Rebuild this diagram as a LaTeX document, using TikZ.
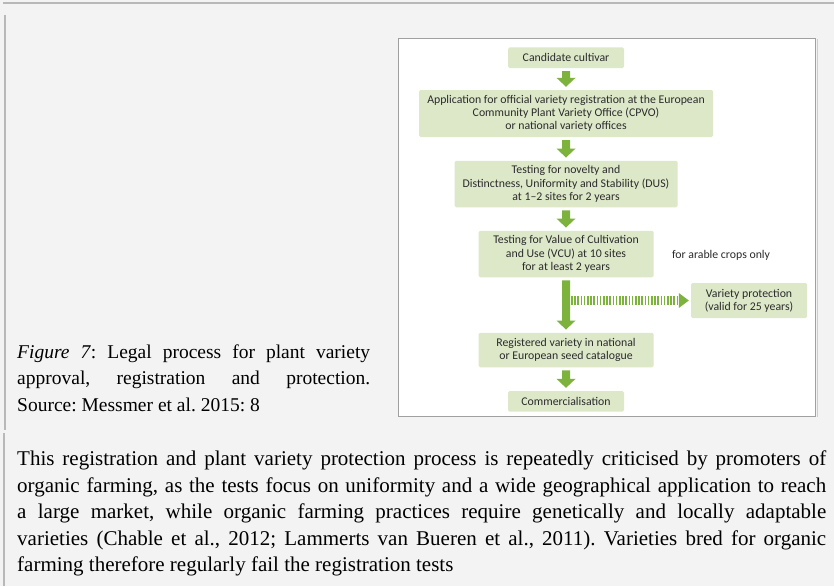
\documentclass[tikz,border=0pt]{standalone}
\usepackage{fontspec}
\setmainfont{Liberation Serif}
\newfontfamily\diagfont{Carlito}
\usetikzlibrary{calc}

\definecolor{pagebg}{HTML}{F3F3F3}
\definecolor{boxgreen}{HTML}{DDE8C9}
\definecolor{arrowgreen}{HTML}{7DB23D}
\definecolor{boxtext}{HTML}{2B2B2B}
\definecolor{rulegray}{HTML}{B8B8B8}
\definecolor{framegray}{HTML}{A0A0A0}

\tikzset{
  stepbox/.style={fill=boxgreen, rounded corners=1.5pt, align=center, inner sep=0pt,
    text=boxtext, font=\diagfont\fontsize{11.8}{13.2}\selectfont},
  sidenote/.style={inner sep=0pt, text=boxtext, font=\diagfont\fontsize{11.8}{13.2}\selectfont},
  flowarrow/.style={fill=arrowgreen},
  stripes/.style={draw=arrowgreen, line width=8.5pt, dash pattern=on 1.5pt off 1.7pt},
  bodytext/.style={anchor=north west, inner sep=0pt, align=justify},
}

% solid block arrow pointing down from one box to the next
\newcommand\downflow[2]{%
  \path[flowarrow] let \p1=($(#1.south)+(0,3)$), \p2=($(#2.north)-(0,3)$) in
    (\x1-4pt,\y1) -- (\x1+4pt,\y1) -- (\x1+4pt,\y2+9pt) -- (\x1+9.5pt,\y2+9pt)
    -- (\x1,\y2) -- (\x1-9.5pt,\y2+9pt) -- (\x1-4pt,\y2+9pt) -- cycle;}

\begin{document}
\frenchspacing
\begin{tikzpicture}[x=1pt,y=-1pt]
\useasboundingbox (0,0) rectangle (834,586);
\fill[pagebg] (0,0) rectangle (834,586);

% page rules
\draw[rulegray, line width=1.5pt] (3,3) -- (834,3);
\draw[rulegray, line width=2pt] (4.5,15) -- (4.5,430);
\draw[rulegray, line width=2pt] (4,433) -- (4,586);

% figure frame
\draw[framegray, line width=1.5pt, fill=white] (398.5,38.5) rectangle (815.5,416.5);
\draw[rulegray!70, line width=1pt] (817,39.5) -- (817,417);

% flow chart boxes
\node[stepbox, minimum width=116pt, minimum height=20.5pt] (cand) at (566,57.75) {Candidate cultivar};
\node[stepbox, minimum width=294pt, minimum height=47pt] (appl) at (566,113.5)
  {Application for official variety registration at the European\\Community Plant Variety Office (CPVO)\\or national variety offices};
\node[stepbox, minimum width=223pt, minimum height=46.5pt] (dus) at (566,184)
  {Testing for novelty and\\Distinctness, Uniformity and Stability (DUS)\\at 1–2 sites for 2 years};
\node[stepbox, minimum width=175pt, minimum height=46.5pt] (vcu) at (566,254)
  {Testing for Value of Cultivation\\and Use (VCU) at 10 sites\\for at least 2 years};
\node[sidenote] (arable) at (721,255.5) {for arable crops only};
\node[stepbox, minimum width=116pt, minimum height=35pt] (prot) at (749,300.5)
  {Variety protection\\(valid for 25 years)};
\node[stepbox, minimum width=175pt, minimum height=34.5pt] (reg) at (566,350)
  {Registered variety in national\\or European seed catalogue};
\node[stepbox, minimum width=116pt, minimum height=20.5pt] (comm) at (566,401.3) {Commercialisation};

% connectors
\downflow{cand}{appl}
\downflow{appl}{dus}
\downflow{dus}{vcu}
\downflow{vcu}{reg}
\downflow{reg}{comm}

% striped branch to variety protection
\coordinate (branch) at (571,300.5);
\draw[stripes] (branch) -- ($(prot.west)+(-12,0)$);
\path[flowarrow] let \p1=($(prot.west)+(-2,0)$) in
  (\x1,\y1) -- (\x1-10pt,\y1-7.5pt) -- (\x1-10pt,\y1+7.5pt) -- cycle;

% caption and running text
\node[bodytext, text width=353pt, font=\fontsize{19.5}{26.5}\selectfont] (caption) at (17,344.5)
  {\textit{Figure 7}: Legal process for plant variety\linebreak
   approval, registration and protection.\linebreak
   Source: Messmer et al. 2015: 8};
\node[bodytext, text width=809pt, font=\fontsize{21}{26.5}\selectfont] (body) at (17,451)
  {This registration and plant variety protection process is repeatedly criticised by promoters of\linebreak
   organic farming, as the tests focus on uniformity and a wide geographical application to reach\linebreak
   a large market, while organic farming practices require genetically and locally adaptable\linebreak
   varieties (Chable et al., 2012; Lammerts van Bueren et al., 2011). Varieties bred for organic\linebreak
   farming therefore regularly fail the registration tests};
\end{tikzpicture}
\end{document}
